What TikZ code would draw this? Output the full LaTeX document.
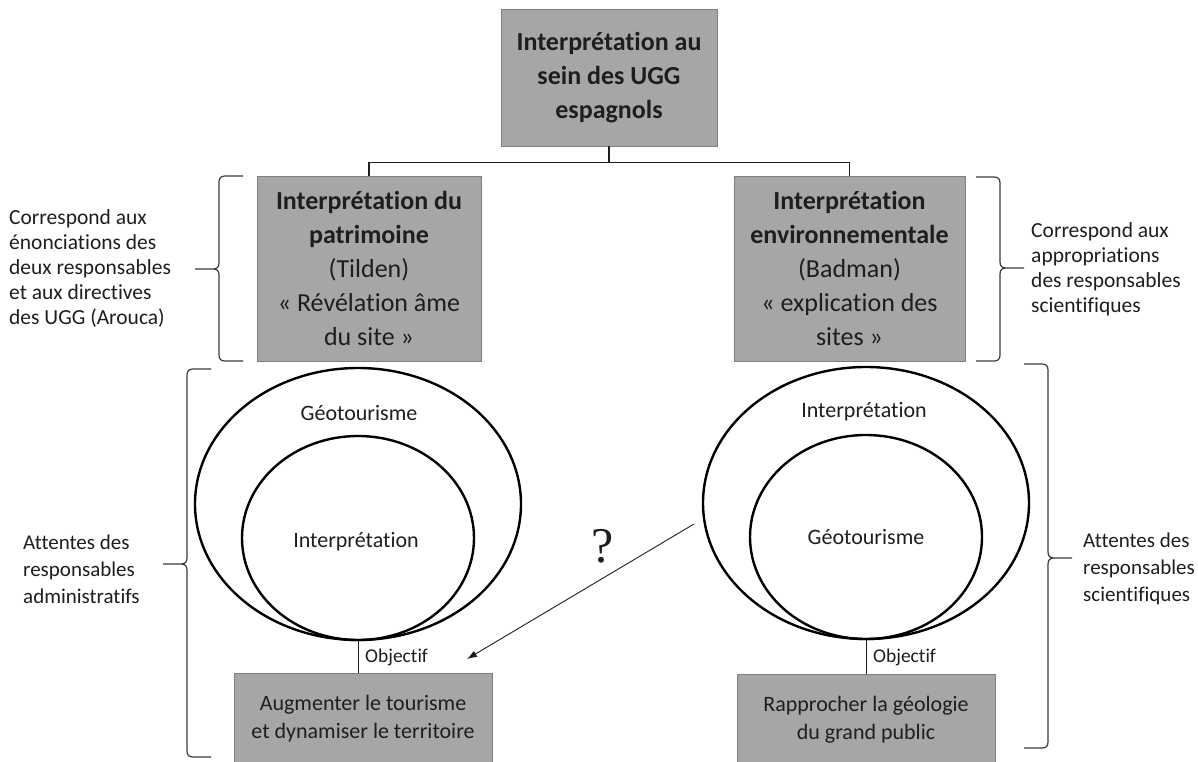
\documentclass[tikz,border=0pt]{standalone}
\usepackage{fontspec}
\setmainfont{Carlito}[Ligatures={NoCommon}]
\newfontfamily\qfont{Liberation Serif}
\usepackage{tikz}
\usetikzlibrary{positioning, shapes.geometric, arrows.meta}
\definecolor{boxfill}{HTML}{A6A6A6}
\definecolor{boxline}{HTML}{7F7F7F}
\definecolor{ink}{HTML}{1E1E1E}
\definecolor{bracecol}{HTML}{3A3A3A}
\tikzset{
	graybox/.style={draw=boxline, fill=boxfill, text=ink, align=center, inner sep=0pt, line width=0.8pt}
}
\tikzset{
	bigtext/.style={font=\fontsize{26}{34}\selectfont},
	goaltext/.style={font=\fontsize{22}{28}\selectfont},
	sidetext/.style={font=\fontsize{21.5}{25}\selectfont, text=ink, align=left, anchor=west, inner sep=0pt},
	ringtext/.style={font=\fontsize{22}{26}\selectfont, text=ink},
	objtext/.style={font=\fontsize{19.5}{22}\selectfont, text=ink, anchor=west, inner sep=0pt},
	ring/.style={draw, ellipse, line width=2.4pt, inner sep=0pt},
	link/.style={draw=ink, line width=1.3pt},
	bracket/.style={draw=bracecol, line width=1.2pt}
}
% brace: x of the bar, top, middle, bottom, side (1 = tips to the right, -1 = tips to the left)
\newcommand{\curly}[5]{%
  \draw[bracket] (#1+24*#5,#2) -- (#1+6*#5,#2) .. controls (#1+2*#5,#2) and (#1,#2+2) .. (#1,#2+6)
    -- (#1,#3-6) .. controls (#1,#3-2) and (#1-2*#5,#3) .. (#1-6*#5,#3) -- (#1-24*#5,#3)
    (#1-6*#5,#3) .. controls (#1-2*#5,#3) and (#1,#3+2) .. (#1,#3+6)
    -- (#1,#4-6) .. controls (#1,#4-2) and (#1+2*#5,#4) .. (#1+6*#5,#4) -- (#1+24*#5,#4);}

\begin{document}
\begin{tikzpicture}[x=1pt, y=-1pt]
  \useasboundingbox (0,0) rectangle (1198,762);
  % top of the tree
  \node[graybox, bigtext, minimum width=216pt, minimum height=137pt] (root) at (609,77.5)
    {\textbf{Interprétation au}\\\textbf{sein des UGG}\\\textbf{espagnols}};
  \node[graybox, bigtext, minimum width=224pt, minimum height=185pt] (heritage) at (369,268.5)
    {\textbf{Interprétation du}\\\textbf{patrimoine}\\(Tilden)\\«~Révélation âme\\du site~»};
  \node[graybox, bigtext, minimum width=231pt, minimum height=185pt] (envir) at (849.5,268.5)
    {\textbf{Interprétation}\\\textbf{environnementale}\\(Badman)\\«~explication des\\sites~»};
  \draw[link] (root.south) -- ++(0,16) coordinate (split);
  \draw[link] (split) -| (heritage.north);
  \draw[link] (split) -| (envir.north);

  % side notes
  \node[sidetext] (lnote) at (9,269)
    {Correspond aux\\énonciations des\\deux responsables\\et aux directives\\des UGG (Arouca)};
  \node[sidetext] (rnote) at (1031,269)
    {Correspond aux\\appropriations\\des responsables\\scientifiques};
  \node[sidetext, font=\fontsize{21}{27}\selectfont] (ladmin) at (23,569)
    {Attentes des\\responsables\\administratifs};
  \node[sidetext, font=\fontsize{21}{27}\selectfont] (rsci) at (1083,569)
    {Attentes des\\responsables\\scientifiques};
  \curly{219}{176}{269}{361}{1}
  \curly{1000}{177}{268}{361}{-1}
  \curly{187}{369}{564}{757}{1}
  \curly{1048}{364}{558}{748}{-1}

  % nested circles
  \node[ring, minimum width=326pt, minimum height=272pt] (lout) at (358,504) {};
  \node[ring, minimum width=232pt, minimum height=204pt] (lin) at (358,538) {};
  \node[ring, minimum width=326pt, minimum height=272pt] (rout) at (866,503) {};
  \node[ring, minimum width=232pt, minimum height=204pt] (rin) at (866,537) {};
  \node[ringtext] (lgeo) at (359,413) {Géotourisme};
  \node[ringtext] (lint) at (356,542) {Interprétation};
  \node[ringtext] (rint) at (864,412) {Interprétation};
  \node[ringtext] (rgeo) at (866,537) {Géotourisme};

  % goals
  \node[graybox, goaltext, minimum width=258pt, minimum height=92pt] (lgoal) at (363,719)
    {Augmenter le tourisme\\et dynamiser le territoire};
  \node[graybox, goaltext, minimum width=258pt, minimum height=92pt] (rgoal) at (866,720)
    {Rapprocher la géologie\\du grand public};
  \draw[link, line width=1pt] (lout.south) -- (lout.south |- lgoal.north);
  \draw[link, line width=1pt] (rout.south) -- (rout.south |- rgoal.north);
  \node[objtext] (lobj) at (365,657) {Objectif};
  \node[objtext] (robj) at (873,657) {Objectif};

  % open question
  \coordinate (qfrom) at (694,524);
  \coordinate (qto) at (467,659);
  \draw[draw=ink, line width=0.9pt, -{Latex[length=10pt, width=7pt]}] (qfrom) -- (qto);
  \node[font=\qfont\fontsize{50}{50}\selectfont, text=ink] (ask) at (603,546) {?};
\end{tikzpicture}
\end{document}
